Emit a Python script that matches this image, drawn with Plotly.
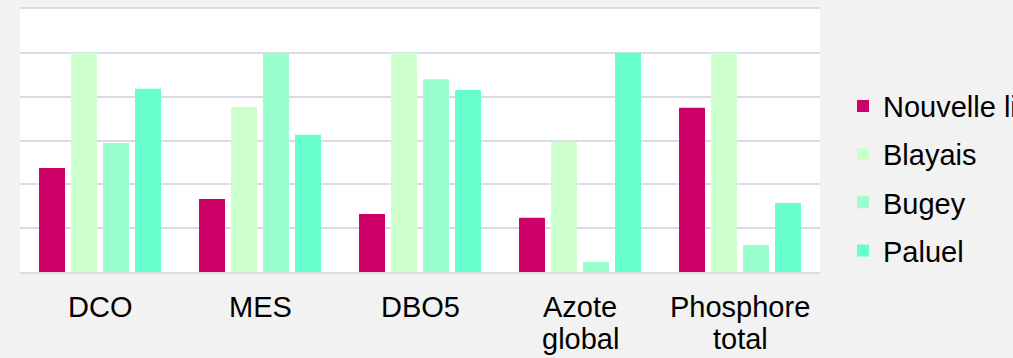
import plotly.graph_objects as go

categories = ["DCO", "MES", "DBO5", "Azote<br>global", "Phosphore<br>total"]
series_names = ["Nouvelle limite", "Blayais", "Bugey", "Paluel"]
nouvelle = [47.5, 33.3, 26.5, 24.7, 74.9]
blayais = [100, 75.3, 100, 59.4, 100]
bugey = [58.9, 100, 88.0, 4.6, 12.3]
paluel = [83.6, 62.6, 83.0, 100, 31.5]
y_ticks = [0, 20, 40, 60, 80, 100, 120]

series_values = [nouvelle, blayais, bugey, paluel]
colors = ["#CC0066", "#CCFFCC", "#99FFCC", "#66FFCC"]

FONT = "Liberation Sans, Arial, sans-serif"
GRID = "#DCD9E8"

fig = go.Figure()
for name, vals, col in zip(series_names, series_values, colors):
    fig.add_trace(go.Bar(x=categories, y=vals, name=name, legendgroup=name,
                         marker=dict(color=col, line=dict(width=0))))

# category labels drawn line by line below the axis
line_tops = [-0.0646, -0.1863]
for cat in categories:
    for i, part in enumerate(cat.split("<br>")):
        fig.add_annotation(x=cat, xref="x", y=line_tops[i], yref="paper",
                           text=part, showarrow=False, xanchor="center",
                           yanchor="top", font=dict(family=FONT, size=29, color="black"))

fig.update_layout(
    width=1013, height=358,
    margin=dict(l=20, r=193, t=9, b=86, autoexpand=False),
    paper_bgcolor="#F2F2F2", plot_bgcolor="white",
    barmode="group", bargap=0.2, bargroupgap=0.19,
    font=dict(family=FONT, size=29, color="black"),
    legend=dict(x=1.02875, xanchor="left", y=0.728, yanchor="top",
                bgcolor="rgba(0,0,0,0)", traceorder="grouped",
                tracegroupgap=7.5, font=dict(family=FONT, size=29, color="black")),
    xaxis=dict(showticklabels=False, showgrid=False, zeroline=False,
               showline=True, mirror=True, linecolor=GRID, linewidth=2, ticks=""),
    yaxis=dict(range=[0, 120], tickvals=y_ticks, showticklabels=False,
               showgrid=True, gridcolor=GRID, gridwidth=1.5,
               zeroline=False, showline=False, ticks=""),
    showlegend=True,
)

fig.write_html("out.html")
